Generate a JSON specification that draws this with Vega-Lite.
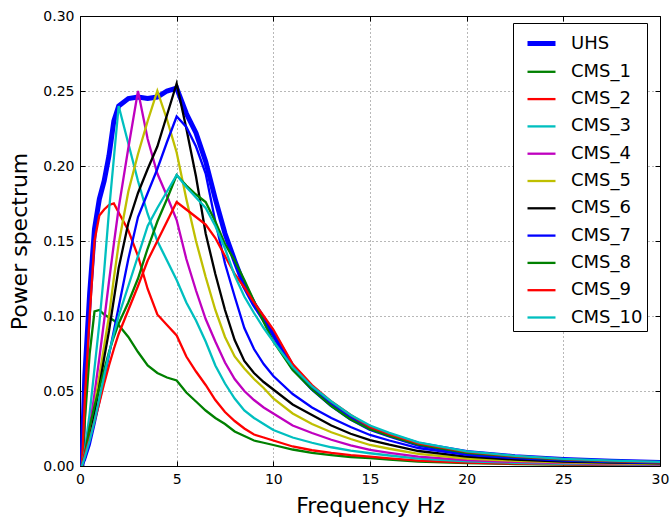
{
  "$schema": "https://vega.github.io/schema/vega-lite/v6.json",
  "width": 580,
  "height": 450,
  "autosize": "none",
  "padding": {"left": 80, "top": 16, "right": 10, "bottom": 56},
  "background": "white",
  "data": {
    "values": [
      {"f": 0.1, "UHS": 0, "CMS_1": 0, "CMS_2": 0, "CMS_3": 0, "CMS_4": 0, "CMS_5": 0, "CMS_6": 0, "CMS_7": 0, "CMS_8": 0, "CMS_9": 0, "CMS_10": 0},
      {"f": 0.25, "UHS": 0.06, "CMS_1": 0.03, "CMS_2": 0.045, "CMS_3": 0.01, "CMS_4": 0.008, "CMS_5": 0.006, "CMS_6": 0.005, "CMS_7": 0.004, "CMS_8": 0.008, "CMS_9": 0.008, "CMS_10": 0.006},
      {"f": 0.5, "UHS": 0.115, "CMS_1": 0.075, "CMS_2": 0.1, "CMS_3": 0.035, "CMS_4": 0.025, "CMS_5": 0.02, "CMS_6": 0.018, "CMS_7": 0.014, "CMS_8": 0.026, "CMS_9": 0.018, "CMS_10": 0.017},
      {"f": 0.75, "UHS": 0.158, "CMS_1": 0.103, "CMS_2": 0.15, "CMS_3": 0.065, "CMS_4": 0.048, "CMS_5": 0.04, "CMS_6": 0.035, "CMS_7": 0.028, "CMS_8": 0.04, "CMS_9": 0.03, "CMS_10": 0.03},
      {"f": 1, "UHS": 0.178, "CMS_1": 0.104, "CMS_2": 0.167, "CMS_3": 0.095, "CMS_4": 0.072, "CMS_5": 0.06, "CMS_6": 0.053, "CMS_7": 0.043, "CMS_8": 0.052, "CMS_9": 0.042, "CMS_10": 0.045},
      {"f": 1.25, "UHS": 0.19, "CMS_1": 0.101, "CMS_2": 0.171, "CMS_3": 0.13, "CMS_4": 0.097, "CMS_5": 0.08, "CMS_6": 0.072, "CMS_7": 0.058, "CMS_8": 0.064, "CMS_9": 0.055, "CMS_10": 0.06},
      {"f": 1.5, "UHS": 0.207, "CMS_1": 0.099, "CMS_2": 0.174, "CMS_3": 0.17, "CMS_4": 0.123, "CMS_5": 0.1, "CMS_6": 0.09, "CMS_7": 0.074, "CMS_8": 0.076, "CMS_9": 0.067, "CMS_10": 0.075},
      {"f": 1.75, "UHS": 0.23, "CMS_1": 0.097, "CMS_2": 0.175, "CMS_3": 0.205, "CMS_4": 0.148, "CMS_5": 0.125, "CMS_6": 0.111, "CMS_7": 0.09, "CMS_8": 0.086, "CMS_9": 0.078, "CMS_10": 0.088},
      {"f": 2, "UHS": 0.24, "CMS_1": 0.094, "CMS_2": 0.169, "CMS_3": 0.24, "CMS_4": 0.172, "CMS_5": 0.148, "CMS_6": 0.132, "CMS_7": 0.106, "CMS_8": 0.095, "CMS_9": 0.088, "CMS_10": 0.1},
      {"f": 2.5, "UHS": 0.245, "CMS_1": 0.086, "CMS_2": 0.157, "CMS_3": 0.215, "CMS_4": 0.212, "CMS_5": 0.183, "CMS_6": 0.162, "CMS_7": 0.138, "CMS_8": 0.109, "CMS_9": 0.104, "CMS_10": 0.12},
      {"f": 3, "UHS": 0.246, "CMS_1": 0.076, "CMS_2": 0.14, "CMS_3": 0.19, "CMS_4": 0.25, "CMS_5": 0.208, "CMS_6": 0.182, "CMS_7": 0.166, "CMS_8": 0.125, "CMS_9": 0.12, "CMS_10": 0.14},
      {"f": 3.5, "UHS": 0.245, "CMS_1": 0.067, "CMS_2": 0.118, "CMS_3": 0.168, "CMS_4": 0.218, "CMS_5": 0.23, "CMS_6": 0.198, "CMS_7": 0.182, "CMS_8": 0.145, "CMS_9": 0.137, "CMS_10": 0.16},
      {"f": 4, "UHS": 0.246, "CMS_1": 0.062, "CMS_2": 0.101, "CMS_3": 0.15, "CMS_4": 0.195, "CMS_5": 0.25, "CMS_6": 0.213, "CMS_7": 0.198, "CMS_8": 0.163, "CMS_9": 0.15, "CMS_10": 0.172},
      {"f": 4.5, "UHS": 0.25, "CMS_1": 0.059, "CMS_2": 0.094, "CMS_3": 0.137, "CMS_4": 0.18, "CMS_5": 0.231, "CMS_6": 0.234, "CMS_7": 0.216, "CMS_8": 0.178, "CMS_9": 0.163, "CMS_10": 0.183},
      {"f": 5, "UHS": 0.252, "CMS_1": 0.057, "CMS_2": 0.087, "CMS_3": 0.124, "CMS_4": 0.164, "CMS_5": 0.209, "CMS_6": 0.255, "CMS_7": 0.233, "CMS_8": 0.194, "CMS_9": 0.176, "CMS_10": 0.194},
      {"f": 5.5, "UHS": 0.235, "CMS_1": 0.049, "CMS_2": 0.073, "CMS_3": 0.109, "CMS_4": 0.138, "CMS_5": 0.178, "CMS_6": 0.225, "CMS_7": 0.226, "CMS_8": 0.187, "CMS_9": 0.171, "CMS_10": 0.186},
      {"f": 6, "UHS": 0.222, "CMS_1": 0.043, "CMS_2": 0.063, "CMS_3": 0.097, "CMS_4": 0.117, "CMS_5": 0.15, "CMS_6": 0.193, "CMS_7": 0.213, "CMS_8": 0.181, "CMS_9": 0.166, "CMS_10": 0.179},
      {"f": 6.5, "UHS": 0.203, "CMS_1": 0.037, "CMS_2": 0.054, "CMS_3": 0.083, "CMS_4": 0.098, "CMS_5": 0.126, "CMS_6": 0.155, "CMS_7": 0.195, "CMS_8": 0.176, "CMS_9": 0.161, "CMS_10": 0.172},
      {"f": 7, "UHS": 0.178, "CMS_1": 0.032, "CMS_2": 0.044, "CMS_3": 0.067, "CMS_4": 0.083, "CMS_5": 0.104, "CMS_6": 0.128, "CMS_7": 0.163, "CMS_8": 0.163, "CMS_9": 0.152, "CMS_10": 0.16},
      {"f": 7.5, "UHS": 0.155, "CMS_1": 0.028, "CMS_2": 0.036, "CMS_3": 0.055, "CMS_4": 0.069, "CMS_5": 0.086, "CMS_6": 0.104, "CMS_7": 0.135, "CMS_8": 0.148, "CMS_9": 0.14, "CMS_10": 0.145},
      {"f": 8, "UHS": 0.137, "CMS_1": 0.023, "CMS_2": 0.03, "CMS_3": 0.045, "CMS_4": 0.058, "CMS_5": 0.073, "CMS_6": 0.084, "CMS_7": 0.113, "CMS_8": 0.137, "CMS_9": 0.128, "CMS_10": 0.127},
      {"f": 8.5, "UHS": 0.12, "CMS_1": 0.02, "CMS_2": 0.025, "CMS_3": 0.037, "CMS_4": 0.05, "CMS_5": 0.065, "CMS_6": 0.07, "CMS_7": 0.092, "CMS_8": 0.124, "CMS_9": 0.119, "CMS_10": 0.113},
      {"f": 9, "UHS": 0.108, "CMS_1": 0.017, "CMS_2": 0.021, "CMS_3": 0.032, "CMS_4": 0.044, "CMS_5": 0.058, "CMS_6": 0.062, "CMS_7": 0.078, "CMS_8": 0.11, "CMS_9": 0.109, "CMS_10": 0.102},
      {"f": 9.5, "UHS": 0.098, "CMS_1": 0.0155, "CMS_2": 0.019, "CMS_3": 0.028, "CMS_4": 0.039, "CMS_5": 0.052, "CMS_6": 0.056, "CMS_7": 0.068, "CMS_8": 0.096, "CMS_9": 0.1, "CMS_10": 0.092},
      {"f": 10, "UHS": 0.088, "CMS_1": 0.014, "CMS_2": 0.017, "CMS_3": 0.024, "CMS_4": 0.035, "CMS_5": 0.045, "CMS_6": 0.051, "CMS_7": 0.06, "CMS_8": 0.083, "CMS_9": 0.091, "CMS_10": 0.083},
      {"f": 11, "UHS": 0.066, "CMS_1": 0.011, "CMS_2": 0.013, "CMS_3": 0.019, "CMS_4": 0.027, "CMS_5": 0.035, "CMS_6": 0.041, "CMS_7": 0.048, "CMS_8": 0.064, "CMS_9": 0.068, "CMS_10": 0.066},
      {"f": 12, "UHS": 0.052, "CMS_1": 0.0088, "CMS_2": 0.0105, "CMS_3": 0.0155, "CMS_4": 0.022, "CMS_5": 0.028, "CMS_6": 0.034, "CMS_7": 0.039, "CMS_8": 0.051, "CMS_9": 0.054, "CMS_10": 0.053},
      {"f": 13, "UHS": 0.041, "CMS_1": 0.0073, "CMS_2": 0.0087, "CMS_3": 0.0125, "CMS_4": 0.0175, "CMS_5": 0.0225, "CMS_6": 0.027, "CMS_7": 0.032, "CMS_8": 0.04, "CMS_9": 0.043, "CMS_10": 0.043},
      {"f": 14, "UHS": 0.032, "CMS_1": 0.006, "CMS_2": 0.0072, "CMS_3": 0.0102, "CMS_4": 0.0138, "CMS_5": 0.018, "CMS_6": 0.0215, "CMS_7": 0.026, "CMS_8": 0.031, "CMS_9": 0.034, "CMS_10": 0.034},
      {"f": 15, "UHS": 0.025, "CMS_1": 0.0052, "CMS_2": 0.0062, "CMS_3": 0.0085, "CMS_4": 0.0107, "CMS_5": 0.014, "CMS_6": 0.0173, "CMS_7": 0.0207, "CMS_8": 0.0245, "CMS_9": 0.026, "CMS_10": 0.027},
      {"f": 16, "UHS": 0.0205, "CMS_1": 0.0043, "CMS_2": 0.0051, "CMS_3": 0.007, "CMS_4": 0.0088, "CMS_5": 0.0115, "CMS_6": 0.0142, "CMS_7": 0.017, "CMS_8": 0.0201, "CMS_9": 0.0213, "CMS_10": 0.0221},
      {"f": 17.5, "UHS": 0.0145, "CMS_1": 0.003, "CMS_2": 0.0036, "CMS_3": 0.0049, "CMS_4": 0.0062, "CMS_5": 0.0081, "CMS_6": 0.01, "CMS_7": 0.012, "CMS_8": 0.0142, "CMS_9": 0.0151, "CMS_10": 0.0157},
      {"f": 20, "UHS": 0.009, "CMS_1": 0.0019, "CMS_2": 0.0022, "CMS_3": 0.0031, "CMS_4": 0.0039, "CMS_5": 0.005, "CMS_6": 0.0062, "CMS_7": 0.0075, "CMS_8": 0.0088, "CMS_9": 0.0094, "CMS_10": 0.0097},
      {"f": 22.5, "UHS": 0.0062, "CMS_1": 0.0013, "CMS_2": 0.0016, "CMS_3": 0.0021, "CMS_4": 0.0027, "CMS_5": 0.0035, "CMS_6": 0.0043, "CMS_7": 0.0052, "CMS_8": 0.0061, "CMS_9": 0.0065, "CMS_10": 0.0068},
      {"f": 25, "UHS": 0.0044, "CMS_1": 0.0009, "CMS_2": 0.0011, "CMS_3": 0.0015, "CMS_4": 0.0019, "CMS_5": 0.0025, "CMS_6": 0.003, "CMS_7": 0.0036, "CMS_8": 0.0043, "CMS_9": 0.0046, "CMS_10": 0.0048},
      {"f": 27.5, "UHS": 0.0032, "CMS_1": 0.0007, "CMS_2": 0.0008, "CMS_3": 0.0011, "CMS_4": 0.0014, "CMS_5": 0.0018, "CMS_6": 0.0022, "CMS_7": 0.0026, "CMS_8": 0.0031, "CMS_9": 0.0033, "CMS_10": 0.0036},
      {"f": 30, "UHS": 0.0024, "CMS_1": 0.0005, "CMS_2": 0.0006, "CMS_3": 0.0008, "CMS_4": 0.001, "CMS_5": 0.0013, "CMS_6": 0.0017, "CMS_7": 0.002, "CMS_8": 0.0024, "CMS_9": 0.0025, "CMS_10": 0.0028}
    ]
  },
  "transform": [
    {"fold": ["UHS", "CMS_1", "CMS_2", "CMS_3", "CMS_4", "CMS_5", "CMS_6", "CMS_7", "CMS_8", "CMS_9", "CMS_10"], "as": ["series", "v"]}
  ],
  "layer": [
    {
      "mark": {"type": "line", "clip": true},
      "encoding": {
        "x": {"field": "f", "type": "quantitative", "scale": {"domain": [0, 30], "nice": false, "zero": false},
              "axis": {"orient": "bottom", "title": "Frequency Hz", "values": [0, 5, 10, 15, 20, 25, 30], "format": "d", "grid": true, "labelFlush": false, "labelOverlap": false, "labelPadding": 11, "titlePadding": 9}},
        "y": {"field": "v", "type": "quantitative", "scale": {"domain": [0, 0.3], "nice": false},
              "axis": {"orient": "left", "title": "Power spectrum", "values": [0, 0.05, 0.1, 0.15, 0.2, 0.25, 0.3], "format": ".2f", "grid": true, "labelFlush": false, "labelOverlap": false, "labelPadding": 11, "titlePadding": 11}},
        "color": {"field": "series", "type": "nominal",
                  "scale": {"domain": ["UHS", "CMS_1", "CMS_2", "CMS_3", "CMS_4", "CMS_5", "CMS_6", "CMS_7", "CMS_8", "CMS_9", "CMS_10"],
                            "range": ["#0000ff", "#008000", "#ff0000", "#00bfbf", "#bf00bf", "#bfbf00", "#000000", "#0000ff", "#008000", "#ff0000", "#00bfbf"]},
                  "legend": {"title": null}},
        "strokeWidth": {"field": "series", "type": "nominal",
                  "scale": {"type": "ordinal", "domain": ["UHS", "CMS_1", "CMS_2", "CMS_3", "CMS_4", "CMS_5", "CMS_6", "CMS_7", "CMS_8", "CMS_9", "CMS_10"],
                            "range": [5, 2.3, 2.3, 2.3, 2.3, 2.3, 2.3, 2.3, 2.3, 2.3, 2.3]},
                  "legend": {"title": null}}
      }
    },
    {
      "mark": {"type": "line", "opacity": 0},
      "encoding": {
        "x": {"field": "f", "type": "quantitative", "axis": {"orient": "top", "title": null, "labels": false, "grid": false, "values": [0, 5, 10, 15, 20, 25, 30]}},
        "y": {"field": "v", "type": "quantitative", "axis": {"orient": "right", "title": null, "labels": false, "grid": false, "values": [0, 0.05, 0.1, 0.15, 0.2, 0.25, 0.3]}},
        "detail": {"field": "series"}
      }
    }
  ],
  "resolve": {"axis": {"x": "independent", "y": "independent"}},
  "config": {
    "font": "DejaVu Sans",
    "view": {"stroke": "black", "strokeWidth": 1},
    "axis": {
      "labelFont": "DejaVu Sans", "labelFontSize": 14, "labelColor": "black",
      "titleFont": "DejaVu Sans", "titleFontSize": 22, "titleFontWeight": "normal", "titleColor": "black",
      "domain": false, "tickColor": "black", "tickSize": -5, "tickWidth": 1,
      "gridColor": "black", "gridDash": [1, 3], "gridOpacity": 0.7, "gridWidth": 0.8
    },
    "legend": {
      "orient": "none", "legendX": 433, "legendY": 7,
      "strokeColor": "black", "fillColor": "white", "padding": 4, "cornerRadius": 0,
      "symbolType": "stroke", "symbolSize": 784, "symbolOffset": 8, "labelOffset": 13, "rowPadding": 2.3,
      "labelFont": "DejaVu Sans", "labelFontSize": 18, "labelColor": "black"
    }
  }
}
